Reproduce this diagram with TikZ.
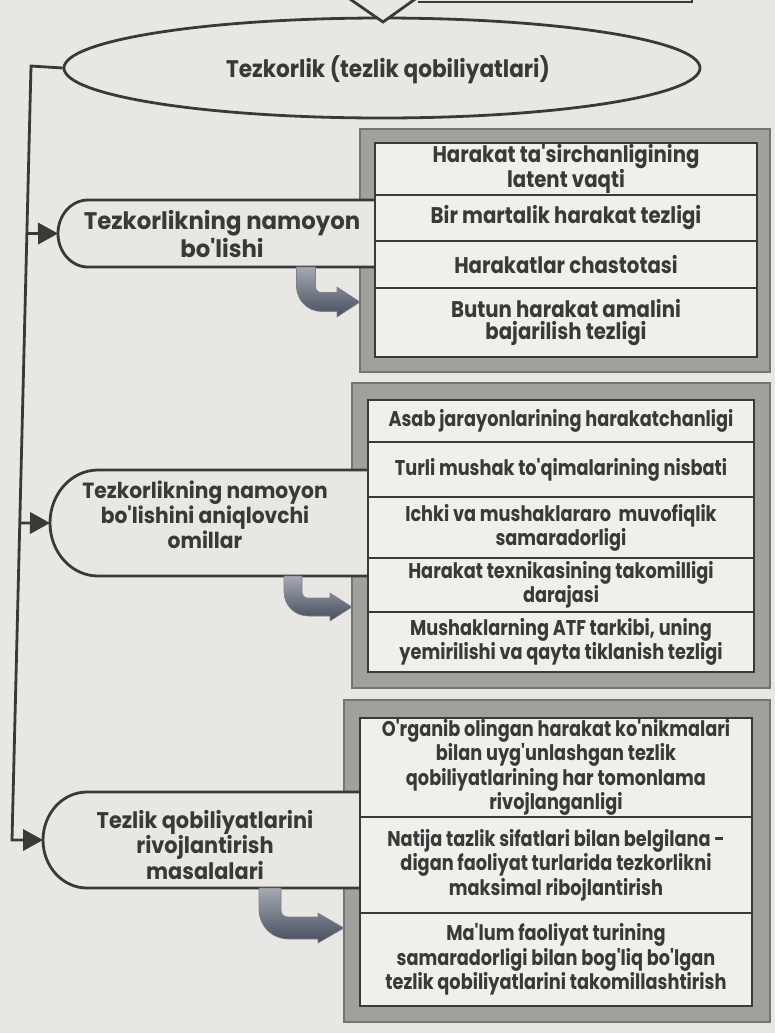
\documentclass[tikz,border=0pt]{standalone}
\usepackage{fontspec}
\setmainfont{Poppins}
\newfontfamily\ellfont{Poppins}[FakeStretch=0.9]
\newfontfamily\tabfontA{Poppins}[FakeStretch=0.95]
\newfontfamily\tabfontB{Poppins}[FakeStretch=0.92]
\newfontfamily\rowfontA{Poppins}[FakeStretch=0.87]
\newfontfamily\rowfontB{Poppins}[FakeStretch=0.83]
\usetikzlibrary{arrows.meta,shapes.geometric,calc}
\definecolor{bg}{HTML}{E8E7E4}
\definecolor{ink}{HTML}{3B3937}
\definecolor{framegray}{HTML}{A2A09D}
\definecolor{rowfill}{HTML}{F0EFEC}
\definecolor{arrowdark}{HTML}{464D5C}
\definecolor{arrowlight}{HTML}{A4A9B3}
\newcommand\fEll{\ellfont\bfseries\fontsize{18}{20}\selectfont}
\newcommand\fTabA{\tabfontA\bfseries\fontsize{18}{18.8}\selectfont}
\newcommand\fTabB{\tabfontB\bfseries\fontsize{16.5}{16.6}\selectfont}
\newcommand\fTabC{\tabfontB\bfseries\fontsize{17}{18}\selectfont}
\newcommand\fRowA{\rowfontA\bfseries\fontsize{17}{17}\selectfont}
\newcommand\fRowB{\rowfontB\bfseries\fontsize{16}{17}\selectfont}
\begin{document}
\begin{tikzpicture}[x=0.75pt,y=-0.75pt,
  conn/.style={draw=ink, line width=2.1pt},
  frame/.style={fill=framegray, draw=ink!70, line width=1pt, inner sep=0pt, outer sep=0pt},
  row/.style={draw=ink, line width=1.4pt, fill=rowfill, text=ink, align=center, inner sep=0pt, outer sep=0pt},
  tabtext/.style={text=ink, align=center, inner sep=0pt},
  tip/.style={-{Triangle[length=15pt,width=16pt]}},
  bent/.style={top color=arrowlight, bottom color=arrowdark, draw=arrowdark!70, line width=0.4pt}
]
\useasboundingbox (0,0) rectangle (775,1033);
\fill[bg] (0,0) rectangle (775,1033);

% grey frames
\node[frame, minimum width=410*0.75pt, minimum height=243*0.75pt] (f1) at (565,250.5) {};
\node[frame, minimum width=418*0.75pt, minimum height=305*0.75pt] (f2) at (561,535.5) {};
\node[frame, minimum width=426*0.75pt, minimum height=322*0.75pt] (f3) at (557,861) {};

% tabs
\draw[conn, fill=bg] (375,200) -- (88,200) arc[start angle=270,end angle=90,x radius=30,y radius=33.5] -- (375,267);
\draw[conn, fill=bg] (368,470) -- (98,470) arc[start angle=270,end angle=90,x radius=48,y radius=53] -- (368,576);
\draw[conn, fill=bg] (360,792) -- (87,792) arc[start angle=270,end angle=90,x radius=44,y radius=48] -- (360,888);
\coordinate (t1) at (58,233.5);
\coordinate (t2) at (50,523);
\coordinate (t3) at (43,840);
\node[tabtext, font=\fTabA] (tab1) at (222,234) {Tezkorlikning namoyon\\bo'lishi};
\node[tabtext, font=\fTabB] (tab2) at (205,515) {Tezkorlikning namoyon\\bo'lishini aniqlovchi\\omillar};
\node[tabtext, font=\fTabC] (tab3) at (205,845) {Tezlik qobiliyatlarini\\rivojlantirish\\masalalari};

% bent arrows
\shade[bent] (296.5,267) -- (296.5,286.5) arc[start angle=180,end angle=90,radius=25] -- (337,311.5) -- (337,317) -- (360,302) -- (337,287) -- (337,292.5) -- (321.5,292.5) arc[start angle=90,end angle=180,radius=6] -- (315.5,267) -- cycle;
\shade[bent] (284,576) -- (284,592) arc[start angle=180,end angle=90,radius=24] -- (330,616) -- (330,621) -- (352,607) -- (330,593) -- (330,598) -- (308,598) arc[start angle=90,end angle=180,radius=6] -- (302,576) -- cycle;
\shade[bent] (259,888) -- (259,910) arc[start angle=180,end angle=90,radius=29] -- (318,939) -- (318,943) -- (344,928) -- (318,913) -- (318,917) -- (288,917) arc[start angle=90,end angle=180,radius=7] -- (281,888) -- cycle;

% rows box 1
\node[row, font=\fRowA, minimum width=382*0.75pt, minimum height=52*0.75pt] (a1) at (566,169) {Harakat ta'sirchanligining\\latent vaqti};
\node[row, font=\fRowA, minimum width=382*0.75pt, minimum height=46*0.75pt] (a2) at (566,218) {Bir martalik harakat tezligi};
\node[row, font=\fRowA, minimum width=382*0.75pt, minimum height=47*0.75pt] (a3) at (566,264.5) {Harakatlar chastotasi};
\node[row, font=\fRowA, minimum width=382*0.75pt, minimum height=69*0.75pt] (a4) at (566,322.5) {Butun harakat amalini\\bajarilish tezligi};

% rows box 2
\node[row, font=\fRowB, minimum width=386*0.75pt, minimum height=42*0.75pt] (b1) at (561,421) {Asab jarayonlarining harakatchanligi};
\node[row, font=\fRowB, minimum width=386*0.75pt, minimum height=55*0.75pt] (b2) at (561,469.5) {Turli mushak to'qimalarining nisbati};
\node[row, font=\fRowB, minimum width=386*0.75pt, minimum height=61*0.75pt] (b3) at (561,527.5) {Ichki va mushaklararo\ \ muvofiqlik\\samaradorligi};
\node[row, font=\fRowB, minimum width=386*0.75pt, minimum height=54*0.75pt] (b4) at (561,585) {Harakat texnikasining takomilligi\\darajasi};
\node[row, font=\fRowB, minimum width=386*0.75pt, minimum height=60*0.75pt] (b5) at (561,642) {Mushaklarning ATF tarkibi, uning\\yemirilishi va qayta tiklanish tezligi};

% rows box 3
\node[row, font=\fRowB, minimum width=392*0.75pt, minimum height=99*0.75pt] (c1) at (556,767.5) {O'rganib olingan harakat ko'nikmalari\\bilan uyg'unlashgan tezlik\\qobiliyatlarining har tomonlama\\rivojlanganligi};
\node[row, font=\fRowB, minimum width=392*0.75pt, minimum height=96*0.75pt] (c2) at (556,865) {Natija tazlik sifatlari bilan belgilana -\\digan faoliyat turlarida tezkorlikni\\maksimal ribojlantirish};
\node[row, font=\fRowB, minimum width=392*0.75pt, minimum height=93*0.75pt] (c3) at (556,959.5) {Ma'lum faoliyat turining\\samaradorligi bilan bog'liq bo'lgan\\tezlik qobiliyatlarini takomillashtirish};

% ellipse
\node[ellipse, conn, fill=bg, minimum width=636*0.75pt, minimum height=100*0.75pt, inner sep=0pt] (ell) at (382,68) {};
\node[tabtext, font=\fEll] (ellt) at (388,70) {Tezkorlik (tezlik qobiliyatlari)};

% top: incoming arrow tip and box edge
\draw[conn, fill=bg] (347,-3) -- (383,22) -- (418,-3);
\draw[conn] (418,2) -- (692,2) -- (692,-3);

% left trunk line and branch arrows
\coordinate (lt) at (31,66);
\coordinate (lb) at (12,840);
\draw[conn, tip] (ell.west) -- (lt) -- (lb) -- (t3);
\draw[conn, tip] ($(lt)!0.2165!(lb)$) -- (t1);
\draw[conn, tip] ($(lt)!0.5904!(lb)$) -- (t2);
\end{tikzpicture}
\end{document}
